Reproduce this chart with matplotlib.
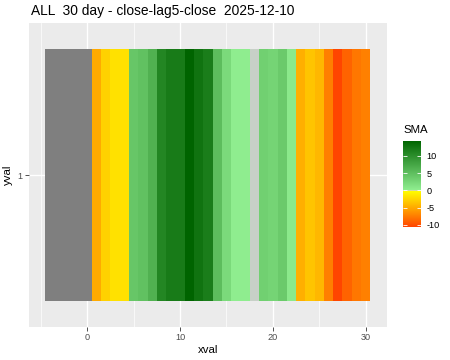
import numpy as np
import matplotlib
matplotlib.use("Agg")
import matplotlib.pyplot as plt
from matplotlib.colors import LinearSegmentedColormap, Normalize

plt.rcParams["font.family"] = ["Liberation Sans", "DejaVu Sans"]
plt.rcParams["axes.unicode_minus"] = False

# ---- data ----
xval = list(range(-4, 31))
sma = [np.nan] * 5 + [-4.96, -2.74, -1.8, -1.8, 4.2, 4.8, 6.4, 10.9, 12.0, 12.0,
                      14.4, 12.8, 11.8, 5.2, 2.2, 0.2, 0.2, 0.0, 3.2, 2.8,
                      3.8, 0.6, -4.67, -3.5, -4.2, -7.33, -10.5, -8.86, -7.77, -7.27]
yval = ["1"]
cbar_ticks = [-10, -5, 0, 5, 10]
title = "ALL  30 day - close-lag5-close  2025-12-10"

vals = np.array(sma, dtype=float)
vmin, vmax = np.nanmin(vals), np.nanmax(vals)

def pos(v):
    return (v - vmin) / (vmax - vmin)

eps = 0.004
nodes = [
    (0.0, "#FF4500"),
    (pos(vmin / 2), "#FFA500"),
    (pos(0) - eps, "#FFFF00"),
    (pos(0), "#C8D0C8"),
    (pos(0) + eps, "#90EE90"),
    (1.0, "#006400"),
]
cmap = LinearSegmentedColormap.from_list("sma", nodes, N=4096)
cmap.set_bad("#7F7F7F")
norm = Normalize(vmin=vmin, vmax=vmax)

fig = plt.figure(figsize=(4.5, 3.6), dpi=100)
ax = fig.add_axes([0.065, 0.0925, 0.794, 0.8425])
ax.set_facecolor("#EBEBEB")

xe = np.concatenate([np.array(xval) - 0.5, [xval[-1] + 0.5]])
ye = np.array([0.5, 1.5])
mesh = ax.pcolormesh(xe, ye, np.ma.masked_invalid(vals)[None, :], cmap=cmap, norm=norm,
                     shading="flat", zorder=3)

ax.set_xlim(-6.25, 32.25)
ax.set_ylim(0.4, 1.6)
for s in ax.spines.values():
    s.set_visible(False)

# grid
for gx in [-5, 5, 15, 25]:
    ax.axvline(gx, color="white", lw=0.5, zorder=1)
for gx in [0, 10, 20, 30]:
    ax.axvline(gx, color="white", lw=1.0, zorder=1)
ax.axhline(1, color="white", lw=1.0, zorder=1)

ax.set_xticks([0, 10, 20, 30])
ax.set_yticks([1])
ax.set_yticklabels(yval)
ax.tick_params(axis="both", colors="#333333", length=2.75, width=0.6, labelsize=6.6,
               labelcolor="#4D4D4D", pad=2)
ax.set_xlabel("xval", fontsize=8.2, labelpad=2)
ax.set_ylabel("yval", fontsize=8.2, labelpad=3)

fig.text(30.5 / 450, 1 - 11.5 / 360, title, fontsize=9.9, va="center", ha="left")

# colorbar
cax = fig.add_axes([403.3 / 450, 1 - 226.7 / 360, 17.4 / 450, 86 / 360])
cb = fig.colorbar(mesh, cax=cax)
cb.outline.set_visible(False)
cb.set_ticks(cbar_ticks)
cax.tick_params(direction="in", colors="white", length=3, width=0.6, left=True, right=True,
                labelsize=6.6, labelcolor="black", pad=4)
fig.text(403 / 450, 1 - 130 / 360, "SMA", fontsize=8.2, va="center", ha="left")

fig.savefig("out.png", dpi=100)
